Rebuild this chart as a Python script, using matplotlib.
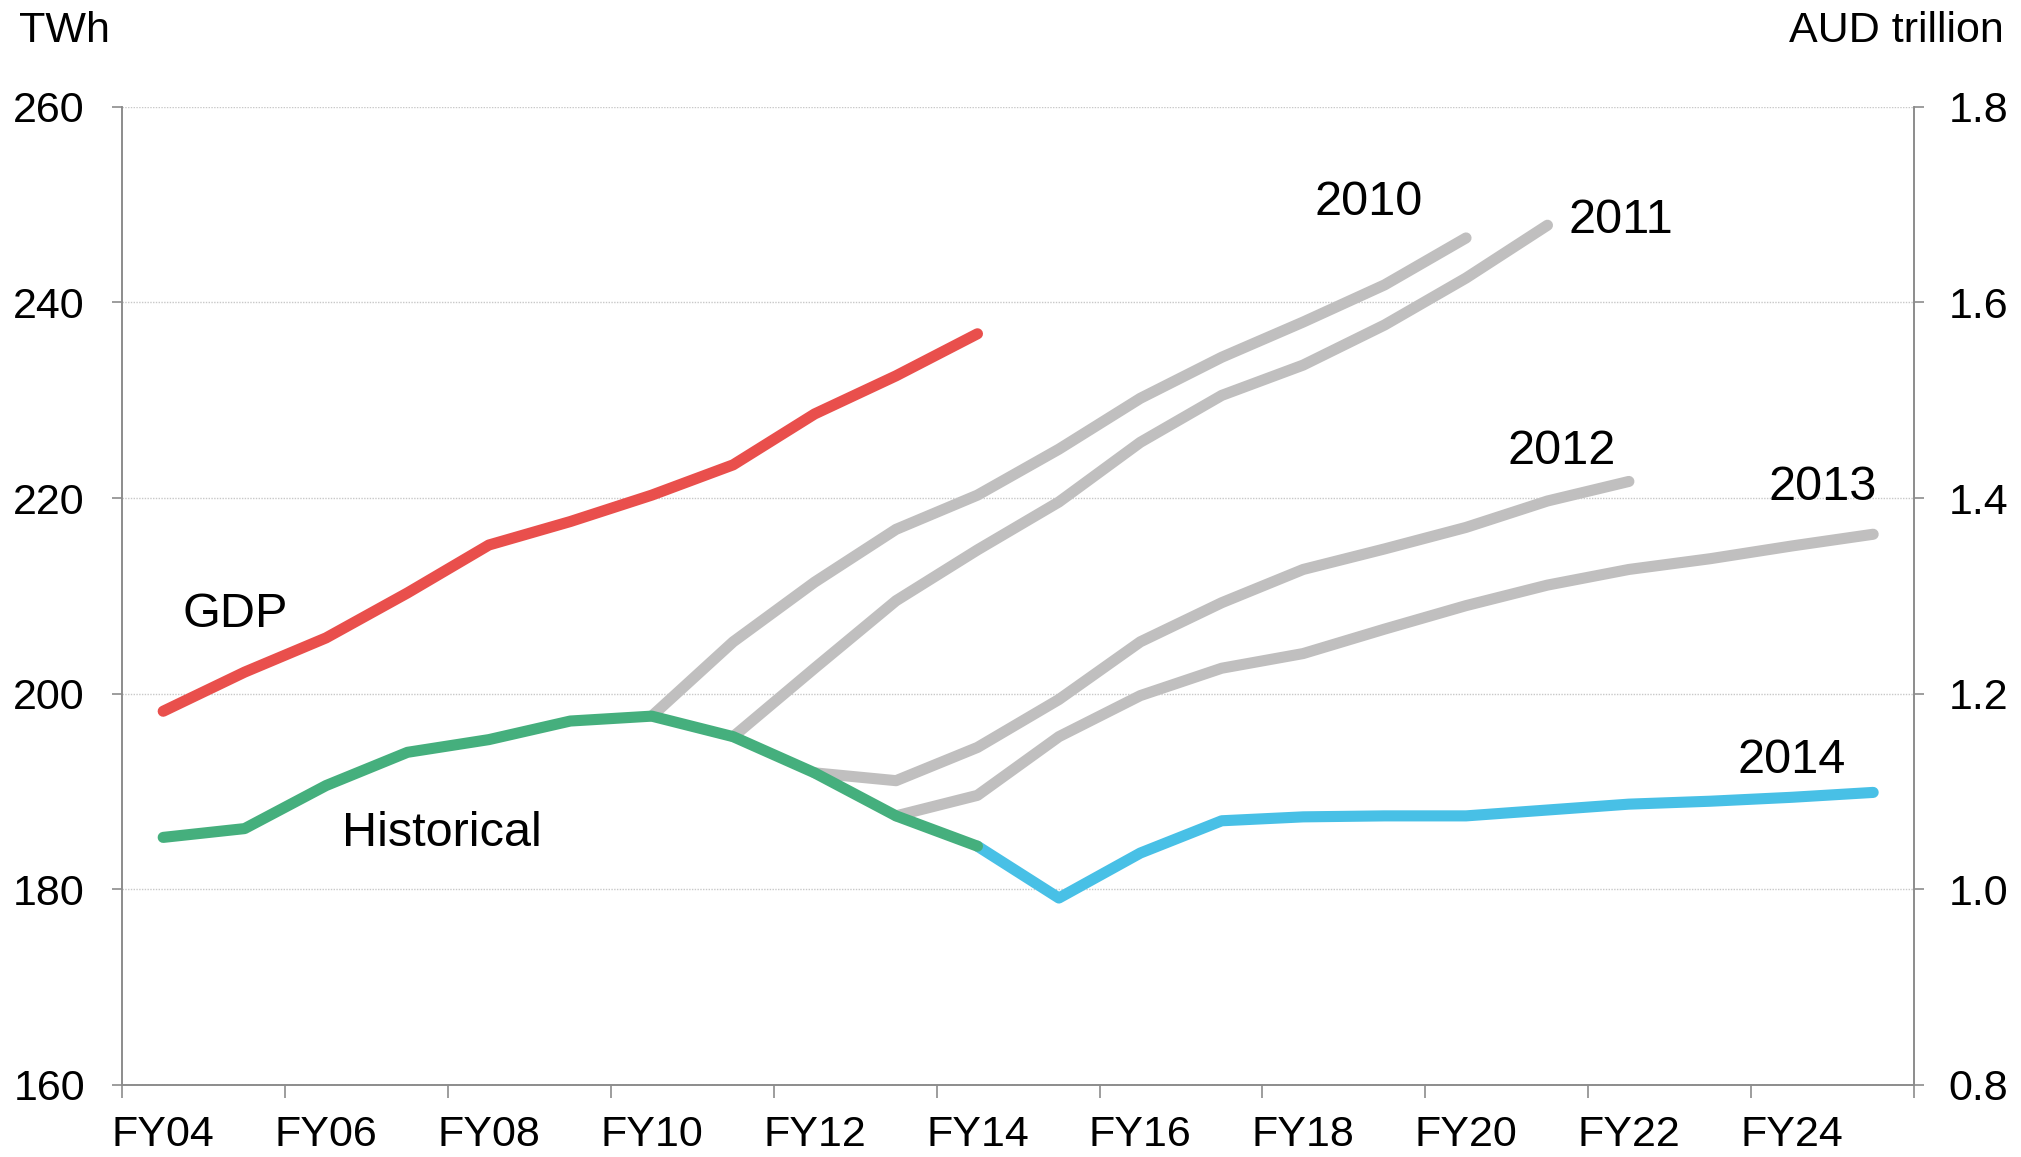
import numpy as np
import matplotlib.pyplot as plt

plt.rcParams['font.family'] = ['Liberation Sans', 'DejaVu Sans']

# financial years on the x axis
years = ['FY04', 'FY05', 'FY06', 'FY07', 'FY08', 'FY09', 'FY10', 'FY11', 'FY12', 'FY13', 'FY14',
         'FY15', 'FY16', 'FY17', 'FY18', 'FY19', 'FY20', 'FY21', 'FY22', 'FY23', 'FY24', 'FY25']

# TWh series (left axis)
historical = [185.3, 186.2, 190.6, 194.0, 195.3, 197.2, 197.7, 195.6, 191.9, 187.5, 184.4]
fc_2010 = [197.7, 205.3, 211.4, 216.8, 220.3, 225.0, 230.2, 234.4, 238.0, 241.8, 246.6]     # FY10-FY20
fc_2011 = [195.6, 202.6, 209.5, 214.7, 219.6, 225.7, 230.5, 233.6, 237.7, 242.5, 247.9]     # FY11-FY21
fc_2012 = [191.9, 191.1, 194.5, 199.4, 205.3, 209.3, 212.7, 214.8, 217.0, 219.7, 221.7]     # FY12-FY22
fc_2013 = [187.5, 189.6, 195.6, 199.8, 202.6, 204.1, 206.6, 209.0, 211.1, 212.7, 213.8,
           215.1, 216.3]                                                                    # FY13-FY25
fc_2014 = [184.4, 179.1, 183.7, 187.0, 187.4, 187.5, 187.5, 188.1, 188.7, 189.0, 189.4,
           189.9]                                                                           # FY14-FY25

# GDP, AUD trillion (right axis), FY04-FY14
gdp = [1.182, 1.222, 1.257, 1.303, 1.352, 1.376, 1.403, 1.434, 1.486, 1.525, 1.568]

red = '#E94F4C'
green = '#45AF7D'
blue = '#48C0E6'
grey = '#C0BFBF'
axis_col = '#8C8C8C'
lw = 8

x = np.arange(len(years))

fig, ax = plt.subplots(figsize=(20.21, 11.57), dpi=100)
fig.subplots_adjust(left=0.0606, right=0.947, top=0.9076, bottom=0.0624)
ax2 = ax.twinx()

# forecasts first, historical on top
for start, vals in [(6, fc_2010), (7, fc_2011), (8, fc_2012), (9, fc_2013)]:
    ax.plot(x[start:start + len(vals)], vals, color=grey, lw=lw, solid_capstyle='round', zorder=2)
ax.plot(x[10:10 + len(fc_2014)], fc_2014, color=blue, lw=lw, solid_capstyle='round', zorder=3)
ax.plot(x[:len(historical)], historical, color=green, lw=lw, solid_capstyle='round', zorder=4)
ax2.plot(x[:len(gdp)], gdp, color=red, lw=lw, solid_capstyle='round', zorder=4)

ax.set_xlim(-0.5, len(years) - 0.5)
ax.set_ylim(160, 260)
ax2.set_ylim(0.8, 1.8)
ax.set_yticks(np.arange(160, 261, 20))
ax2.set_yticks(np.arange(0.8, 1.81, 0.2))
ax2.set_yticklabels([f'{v:.1f}' for v in np.arange(0.8, 1.81, 0.2)])

# ticks between categories, labels every second year
ax.set_xticks(np.arange(-0.5, len(years), 2))
ax.set_xticklabels([])
ax.set_xticks(x[::2], minor=True)
ax.set_xticklabels(years[::2], minor=True)
ax.tick_params(axis='x', which='major', length=9, width=1.2, color=axis_col)
ax.tick_params(axis='x', which='minor', length=0, pad=22, labelsize=31)
ax.tick_params(axis='y', length=7, width=1.2, color=axis_col, pad=20, labelsize=31)
ax2.tick_params(axis='y', length=7, width=1.2, color=axis_col, pad=18, labelsize=31)

ax.grid(axis='y', color='#C8C8C8', linestyle=(0, (1, 1)), lw=1)
for a in (ax, ax2):
    a.spines['top'].set_visible(False)
    for s in ('left', 'right', 'bottom'):
        a.spines[s].set_color(axis_col)
        a.spines[s].set_linewidth(1.2)

# series labels
ax.text(0.24, 208.1, 'GDP', fontsize=35, va='center')
ax.text(2.19, 185.7, 'Historical', fontsize=35, va='center')
ax.text(14.14, 250.2, '2010', fontsize=35, va='center')
ax.text(17.26, 248.4, '2011', fontsize=35, va='center')
ax.text(16.51, 224.8, '2012', fontsize=35, va='center')
ax.text(19.71, 221.1, '2013', fontsize=35, va='center')
ax.text(19.33, 193.2, '2014', fontsize=35, va='center')

fig.text(0.0096, 0.973, 'TWh', fontsize=31, va='center', ha='left')
fig.text(0.9917, 0.973, 'AUD trillion', fontsize=31, va='center', ha='right')

plt.savefig('out.png', dpi=100)
